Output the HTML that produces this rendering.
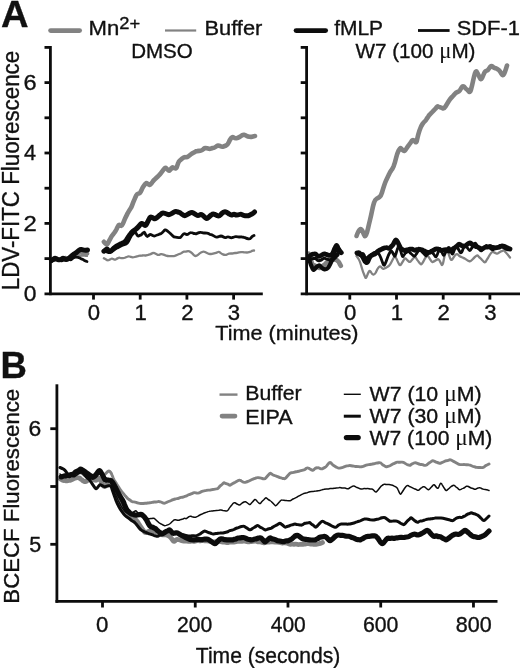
<!DOCTYPE html>
<html lang="en">
<head>
<meta charset="utf-8">
<title>Figure</title>
<style>
html,body{margin:0;padding:0;background:#fff;}
body{width:520px;height:668px;overflow:hidden;}
svg{display:block;}
svg text{font-family:"Liberation Sans",Arial,Helvetica,sans-serif;fill:#111;stroke:#111;stroke-width:0.35px;stroke-linejoin:round;}
</style>
</head>
<body>
<svg width="520" height="668" viewBox="0 0 520 668">
<rect width="520" height="668" fill="#ffffff"/>
<g id="curves">
<path d="M51.5,261.0 Q54.2,260.4 55.6,259.7 Q57.0,259.0 58.2,259.6 Q59.5,260.1 60.8,260.3 Q62.0,260.5 63.0,260.1 Q64.0,259.6 65.0,259.4 Q66.0,259.2 67.0,259.1 Q68.0,259.0 69.2,258.9 Q70.5,258.8 71.8,258.4 Q73.0,258.0 74.2,257.6 Q75.5,257.2 76.8,256.6 Q78.0,256.0 79.2,255.9 Q80.5,255.9 81.8,255.7 Q83.0,255.5 84.0,255.5 Q85.0,255.6 86.0,255.8 L87.0,256.0" fill="none" stroke="#828282" stroke-width="2.2" stroke-linecap="round" stroke-linejoin="round"/>
<path d="M51.5,260.0 Q53.8,259.0 54.9,258.7 Q56.0,258.5 57.0,258.9 Q58.0,259.3 59.0,259.6 Q60.0,260.0 61.2,259.4 Q62.5,258.9 63.8,258.4 Q65.0,258.0 66.2,258.2 Q67.5,258.4 68.8,258.4 Q70.0,258.5 71.0,257.9 Q72.0,257.4 73.0,256.7 Q74.0,256.0 75.0,255.0 Q76.0,254.1 77.0,253.5 Q78.0,253.0 79.0,252.6 Q80.0,252.3 81.0,252.4 Q82.0,252.5 83.5,253.2 Q85.0,254.0 86.0,253.8 L87.0,253.5" fill="none" stroke="#828282" stroke-width="4.6" stroke-linecap="round" stroke-linejoin="round"/>
<path d="M51.5,261.5 Q53.8,260.0 54.9,259.5 Q56.0,259.0 57.2,259.3 Q58.5,259.6 59.8,260.3 Q61.0,261.0 62.2,260.6 Q63.5,260.1 64.8,259.8 Q66.0,259.5 67.2,259.5 Q68.5,259.4 69.8,259.7 Q71.0,260.0 72.0,259.0 Q73.0,258.1 74.0,257.5 Q75.0,257.0 76.0,257.1 Q77.0,257.2 78.0,257.3 Q79.0,257.5 80.0,258.2 Q81.0,258.9 82.0,259.2 Q83.0,259.5 84.0,260.2 Q85.0,260.8 86.0,261.2 L87.0,261.5" fill="none" stroke="#0c0c0c" stroke-width="2.8" stroke-linecap="round" stroke-linejoin="round"/>
<path d="M51.5,260.5 Q53.2,259.4 54.1,258.7 Q55.0,258.0 56.0,258.6 Q57.0,259.3 58.0,259.6 Q59.0,260.0 60.0,259.7 Q61.0,259.4 62.0,258.7 Q63.0,258.0 64.0,258.6 Q65.0,259.3 66.0,259.4 Q67.0,259.5 68.0,258.9 Q69.0,258.3 70.0,257.4 Q71.0,256.5 72.5,255.2 Q74.0,254.0 75.0,253.5 Q76.0,253.0 77.0,252.0 Q78.0,251.0 79.0,250.3 Q80.0,249.7 81.0,249.6 Q82.0,249.5 83.5,250.0 Q85.0,250.5 86.2,250.2 L87.5,250.0" fill="none" stroke="#0c0c0c" stroke-width="5.0" stroke-linecap="round" stroke-linejoin="round"/>
<path d="M103.9,258.3 Q106.0,259.6 107.0,260.1 Q107.9,260.6 109.0,260.0 Q110.0,259.4 110.9,258.9 Q111.8,258.3 112.6,258.8 Q113.4,259.2 114.2,259.5 Q114.9,259.8 116.0,259.2 Q117.0,258.6 118.0,258.1 Q118.9,257.5 120.1,257.8 Q121.3,258.0 122.4,258.1 Q123.6,258.3 124.8,257.8 Q126.0,257.2 127.2,256.7 Q128.3,256.2 129.5,256.5 Q130.7,256.9 131.8,257.2 Q133.0,257.5 134.6,257.0 Q136.2,256.5 137.8,256.1 Q139.3,255.6 140.3,255.7 Q141.3,255.8 142.3,255.5 Q143.3,255.3 144.3,255.4 Q145.2,255.6 146.2,255.3 Q147.2,255.1 148.1,254.8 Q148.9,254.5 149.8,254.3 Q150.7,254.0 151.6,253.6 Q152.4,253.1 153.3,253.0 Q154.2,252.8 155.2,253.4 Q156.2,254.0 157.2,254.6 Q158.2,255.1 159.2,254.8 Q160.2,254.5 161.1,254.2 Q162.1,254.0 163.5,254.6 Q164.9,255.2 166.2,255.7 Q167.6,256.2 169.2,256.2 Q170.8,256.2 172.4,256.2 Q173.9,256.2 175.4,255.6 Q177.0,254.9 178.5,254.2 Q180.0,253.6 180.5,253.6 Q181.0,253.5 182.0,252.7 Q183.0,252.0 184.0,251.7 Q185.0,251.5 186.0,251.5 Q187.0,251.4 188.0,251.2 Q189.0,251.0 190.5,252.0 Q192.0,253.0 193.5,254.8 Q195.0,256.5 196.5,255.8 Q198.0,255.0 199.5,253.5 Q201.0,252.0 202.5,251.8 Q204.0,251.5 205.0,252.0 Q206.0,252.5 207.0,253.0 Q208.0,253.5 209.0,253.8 Q210.0,254.0 211.0,254.0 Q212.0,254.0 213.0,253.7 Q214.0,253.4 215.0,253.2 Q216.0,253.0 217.5,252.2 Q219.0,251.5 220.5,252.8 Q222.0,254.0 223.0,254.4 Q224.0,254.8 225.0,254.9 Q226.0,255.0 227.0,254.5 Q228.0,254.0 229.0,253.7 Q230.0,253.5 231.0,253.5 Q232.0,253.6 233.0,253.3 Q234.0,253.0 235.0,253.0 Q236.0,253.0 237.0,252.8 Q238.0,252.5 239.0,252.3 Q240.0,252.2 241.0,252.1 Q242.0,252.0 243.0,252.1 Q244.0,252.3 245.0,252.4 Q246.0,252.5 247.0,252.5 Q248.0,252.5 249.0,252.2 Q250.0,252.0 251.0,251.5 Q252.0,250.9 253.0,250.7 L254.0,250.5" fill="none" stroke="#828282" stroke-width="2.3" stroke-linecap="round" stroke-linejoin="round"/>
<path d="M103.9,241.8 Q105.5,243.5 106.2,244.2 Q107.0,245.0 108.2,242.6 Q109.4,240.2 110.5,238.3 Q111.5,236.5 112.5,235.2 Q113.4,233.9 114.6,232.4 Q115.7,230.8 116.5,229.2 Q117.3,227.5 118.1,226.0 Q118.9,224.5 119.7,225.0 Q120.5,225.5 121.2,225.8 Q122.0,226.0 122.8,224.0 Q123.6,222.0 124.4,220.1 Q125.2,218.2 126.0,216.6 Q126.8,215.0 127.6,213.4 Q128.3,211.9 129.1,210.7 Q129.9,209.5 130.7,208.3 Q131.4,207.2 132.0,205.6 Q132.6,204.0 133.2,202.4 Q133.8,200.9 134.6,199.1 Q135.4,197.3 136.2,195.6 Q137.0,193.8 137.8,193.7 Q138.5,193.6 139.3,193.3 Q140.1,193.0 140.9,191.4 Q141.7,189.8 142.4,188.2 Q143.2,186.7 144.0,185.6 Q144.8,184.5 145.6,183.7 Q146.4,182.8 147.4,183.6 Q148.3,184.3 149.3,184.8 Q150.3,185.2 151.1,183.9 Q151.9,182.7 152.7,181.6 Q153.5,180.4 155.1,179.0 Q156.6,177.6 158.1,176.2 Q159.7,174.9 161.1,172.9 Q162.5,171.0 163.9,169.1 Q165.3,167.1 166.3,168.2 Q167.3,169.3 168.2,170.2 Q169.2,171.0 170.0,170.0 Q170.8,169.0 171.6,168.1 Q172.3,167.1 173.3,167.6 Q174.3,168.0 175.3,168.3 Q176.3,168.6 176.9,166.8 Q177.5,165.0 178.1,163.3 Q178.6,161.6 179.8,160.6 Q181.0,159.5 182.5,158.2 Q184.0,157.0 185.5,157.2 Q187.0,157.5 188.5,156.2 Q190.0,155.0 191.0,154.2 Q192.0,153.4 193.0,153.0 Q194.0,152.5 195.0,151.8 Q196.0,151.1 197.0,151.1 Q198.0,151.0 199.1,150.9 Q200.2,150.8 201.4,150.4 Q202.5,150.0 203.4,149.1 Q204.2,148.2 205.1,148.1 Q206.0,148.0 207.0,148.3 Q208.0,148.6 209.0,148.8 Q210.0,149.0 211.2,148.5 Q212.5,148.0 213.8,147.8 Q215.0,147.5 216.0,146.6 Q217.0,145.7 218.0,145.6 Q219.0,145.5 220.5,146.2 Q222.0,147.0 223.4,146.5 Q224.8,146.0 226.1,145.5 Q227.5,145.0 228.8,142.2 Q230.0,139.5 231.2,138.0 Q232.5,136.5 233.8,137.5 Q235.0,138.5 236.5,138.2 Q238.0,138.0 239.5,137.0 Q241.0,136.0 242.0,135.3 Q243.0,134.7 244.0,134.8 Q245.0,135.0 246.5,135.8 Q248.0,136.5 249.5,136.8 Q251.0,137.0 252.0,136.7 Q253.0,136.4 254.0,136.2 L255.0,136.0" fill="none" stroke="#828282" stroke-width="4.6" stroke-linecap="round" stroke-linejoin="round"/>
<path d="M103.9,250.5 Q106.5,252.0 108.0,252.4 Q109.4,252.8 111.0,251.8 Q112.5,250.8 114.1,249.8 Q115.7,248.8 117.3,247.9 Q119.0,247.0 120.5,246.2 Q122.0,245.5 123.5,245.0 Q125.0,244.5 126.2,243.9 Q127.5,243.3 128.5,241.4 Q129.5,239.5 130.4,237.5 Q131.4,235.5 132.4,234.5 Q133.4,233.5 134.4,232.5 Q135.4,231.5 135.9,232.8 Q136.5,234.0 137.1,235.2 Q137.7,236.3 138.8,235.9 Q140.0,235.5 140.8,235.1 Q141.7,234.7 142.8,233.1 Q144.0,231.5 144.8,233.0 Q145.6,234.5 146.4,235.8 Q147.2,237.0 148.1,236.1 Q149.0,235.2 149.7,234.6 Q150.3,234.0 151.3,234.7 Q152.3,235.3 153.2,235.8 Q154.2,236.3 155.2,235.8 Q156.3,235.3 157.2,235.0 Q158.2,234.7 159.3,234.2 Q160.5,233.8 161.3,233.4 Q162.1,233.1 163.7,231.1 Q165.3,229.2 166.3,230.1 Q167.3,230.9 168.2,231.6 Q169.2,232.3 170.4,233.6 Q171.6,234.8 172.8,235.9 Q173.9,237.0 175.4,237.2 Q177.0,237.5 178.5,237.7 Q180.0,237.8 180.5,237.4 Q181.0,237.0 182.5,235.0 Q184.0,233.0 185.5,234.0 Q187.0,235.0 188.5,233.8 Q190.0,232.5 191.0,232.6 Q192.0,232.6 193.0,233.1 Q194.0,233.5 195.0,233.7 Q196.0,233.9 197.0,233.4 Q198.0,233.0 199.0,232.6 Q200.0,232.2 201.0,232.4 Q202.0,232.5 203.0,232.8 Q204.0,233.0 205.0,233.0 Q206.0,233.0 207.0,233.1 Q208.0,233.2 209.0,233.8 Q210.0,234.5 211.0,234.7 Q212.0,234.9 213.0,235.4 Q214.0,236.0 215.0,236.6 Q216.0,237.2 217.0,237.1 Q218.0,237.0 219.0,236.5 Q220.0,236.1 221.0,236.0 Q222.0,236.0 223.5,237.0 Q225.0,238.0 226.5,237.2 Q228.0,236.5 229.5,237.2 Q231.0,238.0 232.0,237.7 Q233.0,237.4 234.0,237.0 Q235.0,236.5 236.0,236.6 Q237.0,236.7 238.0,236.8 Q239.0,237.0 240.0,237.0 Q241.0,236.9 242.0,237.0 Q243.0,237.0 244.0,237.4 Q245.0,237.7 246.0,238.1 Q247.0,238.5 248.5,238.8 Q250.0,239.0 251.0,237.8 Q252.0,236.5 253.0,236.0 L254.0,235.5" fill="none" stroke="#0c0c0c" stroke-width="2.8" stroke-linecap="round" stroke-linejoin="round"/>
<path d="M103.9,251.2 Q105.5,250.0 106.2,249.4 Q107.0,248.8 107.8,249.7 Q108.6,250.5 109.4,251.2 Q110.2,252.0 111.6,250.6 Q113.0,249.2 114.3,247.8 Q115.7,246.5 116.8,245.9 Q118.0,245.3 119.2,244.7 Q120.4,244.1 121.6,243.6 Q122.8,243.0 124.0,242.4 Q125.2,241.8 126.8,239.4 Q128.3,237.0 129.9,234.7 Q131.4,232.3 132.8,231.3 Q134.2,230.3 135.6,229.4 Q137.0,228.4 138.2,227.0 Q139.4,225.6 140.6,224.2 Q141.7,222.9 142.7,223.8 Q143.7,224.6 144.6,225.3 Q145.6,226.0 146.8,223.6 Q148.0,221.2 149.2,218.9 Q150.3,216.6 151.5,217.2 Q152.7,217.9 153.8,218.4 Q155.0,219.0 156.0,218.3 Q157.0,217.5 158.0,216.7 Q159.0,215.8 160.0,215.0 Q160.9,214.1 161.9,213.4 Q162.9,212.7 164.4,213.3 Q166.0,213.9 167.6,214.4 Q169.2,215.0 170.8,214.0 Q172.4,213.0 173.9,212.1 Q175.5,211.1 176.8,211.6 Q178.0,212.0 179.0,212.3 Q180.0,212.7 180.5,213.1 Q181.0,213.5 182.0,214.2 Q183.0,214.9 184.0,215.4 Q185.0,216.0 186.5,215.0 Q188.0,214.0 189.5,213.2 Q191.0,212.5 192.0,212.6 Q193.0,212.7 194.0,213.4 Q195.0,214.0 196.5,215.0 Q198.0,216.0 199.5,215.0 Q201.0,214.0 202.5,215.2 Q204.0,216.5 205.5,217.8 Q207.0,219.0 208.5,217.5 Q210.0,216.0 211.5,214.8 Q213.0,213.5 214.5,214.2 Q216.0,215.0 217.5,215.8 Q219.0,216.5 220.5,214.8 Q222.0,213.0 223.5,212.2 Q225.0,211.5 226.5,212.2 Q228.0,213.0 229.5,214.2 Q231.0,215.5 232.5,214.8 Q234.0,214.0 235.0,214.5 Q236.0,215.1 237.0,215.0 Q238.0,215.0 239.5,214.5 Q241.0,214.0 242.0,214.7 Q243.0,215.3 244.0,215.4 Q245.0,215.5 246.5,215.8 Q248.0,216.0 249.5,215.2 Q251.0,214.5 251.9,214.0 Q252.8,213.5 253.6,212.8 L254.5,212.0" fill="none" stroke="#0c0c0c" stroke-width="5.0" stroke-linecap="round" stroke-linejoin="round"/>
<path d="M308.8,258.5 Q310.6,261.3 311.6,262.3 Q312.5,263.3 313.9,264.0 Q315.4,264.6 316.9,265.2 Q318.3,265.8 319.8,265.6 Q321.2,265.4 322.6,264.6 Q324.0,263.8 325.4,263.2 Q326.9,262.7 328.4,261.9 Q329.8,261.2 331.2,260.8 Q332.7,260.4 334.1,260.6 Q335.6,260.8 337.1,261.6 Q338.5,262.3 339.4,263.1 L340.4,263.8" fill="none" stroke="#828282" stroke-width="2.2" stroke-linecap="round" stroke-linejoin="round"/>
<path d="M308.7,253.7 Q309.6,256.2 310.1,257.4 Q310.6,258.5 311.1,260.2 Q311.5,261.9 312.0,263.5 Q312.5,265.2 313.4,265.5 Q314.4,265.8 315.4,266.0 Q316.3,266.2 317.1,266.8 Q317.9,267.3 318.5,267.7 Q319.2,268.1 320.2,267.6 Q321.2,267.1 322.1,266.6 Q323.1,266.2 324.1,265.2 Q325.0,264.2 325.9,263.2 Q326.9,262.3 327.9,261.6 Q328.8,260.8 329.8,260.1 Q330.8,259.4 332.0,259.3 Q333.1,259.2 334.4,259.3 Q335.6,259.4 336.4,259.9 Q337.1,260.4 337.8,260.9 Q338.5,261.3 339.1,262.5 Q339.6,263.7 340.2,264.8 L340.8,265.8" fill="none" stroke="#828282" stroke-width="4.6" stroke-linecap="round" stroke-linejoin="round"/>
<path d="M309.0,259.4 Q310.4,263.3 310.9,264.8 Q311.5,266.2 312.0,267.4 Q312.5,268.5 313.0,269.4 Q313.5,270.4 314.2,269.5 Q315.0,268.7 315.6,267.9 Q316.3,267.1 317.1,266.6 Q317.9,266.2 318.5,265.7 Q319.2,265.2 320.0,265.9 Q320.8,266.7 321.5,267.4 Q322.1,268.1 322.9,268.6 Q323.7,269.0 324.4,269.3 Q325.0,269.6 325.8,269.2 Q326.5,268.8 327.2,268.5 Q327.9,268.1 328.4,267.4 Q328.8,266.7 329.3,265.9 Q329.8,265.2 330.3,264.0 Q330.8,262.9 331.2,261.9 Q331.7,260.8 332.4,259.9 Q333.1,259.0 333.9,258.2 Q334.6,257.5 335.4,256.8 Q336.2,256.0 336.9,255.3 L337.5,254.6" fill="none" stroke="#0c0c0c" stroke-width="4.2" stroke-linecap="round" stroke-linejoin="round"/>
<path d="M308.7,257.5 Q310.0,255.8 310.8,255.2 Q311.5,254.6 312.5,254.2 Q313.5,253.8 314.4,253.8 Q315.4,253.7 316.1,254.4 Q316.9,255.2 317.6,255.8 Q318.3,256.5 319.1,256.2 Q319.8,256.0 320.5,255.8 Q321.2,255.6 321.9,255.0 Q322.7,254.4 323.4,254.1 Q324.0,253.7 324.8,253.9 Q325.6,254.2 326.2,254.4 Q326.9,254.6 327.7,254.9 Q328.5,255.2 329.1,255.4 Q329.8,255.6 330.6,255.1 Q331.3,254.6 332.0,254.1 Q332.7,253.7 333.2,252.4 Q333.7,251.2 334.1,250.0 Q334.6,248.8 335.1,247.8 Q335.6,246.7 336.1,245.8 Q336.5,245.0 337.0,245.9 Q337.5,246.9 338.0,247.9 Q338.5,248.8 338.9,249.6 Q339.4,250.4 339.9,251.1 Q340.4,251.7 340.9,252.2 L341.3,252.7" fill="none" stroke="#0c0c0c" stroke-width="4.8" stroke-linecap="round" stroke-linejoin="round"/>
<path d="M311.5,259.1 Q313.5,258.3 314.4,258.2 Q315.4,258.2 316.1,258.9 Q316.9,259.7 317.6,260.4 Q318.3,261.0 319.1,260.8 Q319.8,260.5 320.5,260.3 Q321.2,260.1 321.9,259.5 Q322.7,258.9 323.4,258.5 Q324.0,258.2 324.8,258.4 Q325.6,258.7 326.2,258.9 Q326.9,259.1 327.7,259.4 Q328.5,259.7 329.1,259.9 Q329.8,260.1 330.6,259.6 Q331.3,259.1 332.0,258.6 Q332.7,258.2 333.2,256.9 Q333.7,255.7 334.1,254.5 Q334.6,253.3 335.1,252.2 Q335.6,251.2 336.1,250.3 Q336.5,249.5 337.0,250.4 L337.5,251.4" fill="none" stroke="#0c0c0c" stroke-width="3.0" stroke-linecap="round" stroke-linejoin="round"/>
<path d="M356.5,256.0 Q359.0,259.0 360.0,262.0 Q361.0,265.0 362.0,268.5 Q363.0,272.0 363.8,273.7 Q364.5,275.4 365.2,277.2 Q366.0,279.0 367.0,276.0 Q368.0,273.0 369.0,271.5 Q370.0,270.0 371.2,272.5 Q372.5,275.0 373.8,274.5 Q375.0,274.0 375.8,272.5 Q376.5,271.0 377.2,269.5 Q378.0,268.0 379.0,267.0 Q380.0,266.0 380.8,266.7 Q381.5,267.4 382.2,268.2 Q383.0,269.0 383.8,268.7 Q384.5,268.4 385.2,268.2 Q386.0,268.0 387.0,267.2 Q388.0,266.4 389.0,265.7 Q390.0,265.0 391.2,262.5 Q392.5,260.0 393.8,257.5 Q395.0,255.0 396.2,258.1 Q397.5,261.2 398.8,263.7 Q400.0,266.2 401.2,264.1 Q402.5,262.0 403.8,259.8 Q405.0,257.5 406.2,259.0 Q407.5,260.5 408.8,261.5 Q410.0,262.5 411.2,260.9 Q412.5,259.2 413.8,257.7 Q415.0,256.2 415.8,257.5 Q416.5,258.8 417.2,259.9 Q418.0,261.0 418.8,261.9 Q419.6,262.8 420.4,263.9 Q421.2,265.0 422.0,263.7 Q422.9,262.4 423.7,260.9 Q424.5,259.5 425.2,258.1 Q426.0,256.8 426.8,255.9 Q427.5,255.0 428.8,257.1 Q430.0,259.2 431.2,260.9 Q432.5,262.5 433.2,261.9 Q434.0,261.3 434.8,260.9 Q435.5,260.5 436.3,260.0 Q437.1,259.5 438.0,259.1 Q438.8,258.8 439.8,260.9 Q440.8,263.0 441.6,264.6 Q442.5,266.2 443.5,261.2 Q444.5,256.2 445.4,251.3 Q446.2,246.5 447.5,250.5 Q448.8,254.5 450.0,257.9 Q451.2,261.2 452.5,259.1 Q453.8,257.0 455.0,255.4 Q456.2,253.8 457.0,254.2 Q457.9,254.5 458.7,255.3 Q459.5,256.0 460.2,256.5 Q461.0,257.0 461.8,257.2 Q462.5,257.5 463.4,257.9 Q464.4,258.3 465.3,258.9 Q466.2,259.5 467.1,260.1 Q468.1,260.8 469.1,261.1 Q470.0,261.5 470.9,260.9 Q471.9,260.2 472.9,259.1 Q473.8,258.0 474.7,257.1 Q475.6,256.3 476.6,255.6 Q477.5,255.0 478.4,256.2 Q479.4,257.4 480.3,258.2 Q481.2,259.0 482.1,260.1 Q483.1,261.2 484.1,262.0 Q485.0,262.8 485.9,261.3 Q486.9,259.8 487.9,258.2 Q488.8,256.5 489.7,255.0 Q490.6,253.5 491.6,252.5 Q492.5,251.5 493.8,252.2 Q495.0,253.0 496.2,253.4 Q497.5,253.8 498.3,253.2 Q499.1,252.6 500.0,252.1 Q500.8,251.5 501.6,251.2 Q502.3,250.9 503.1,250.4 Q503.8,250.0 504.6,250.9 Q505.4,251.8 506.2,252.9 Q507.0,254.0 507.8,254.7 Q508.5,255.5 509.2,256.5 L510.0,257.5" fill="none" stroke="#828282" stroke-width="2.3" stroke-linecap="round" stroke-linejoin="round"/>
<path d="M356.5,236.0 Q358.5,230.5 359.8,229.5 Q361.0,228.5 362.0,230.2 Q363.0,232.0 364.0,234.8 Q365.0,237.5 366.0,235.2 Q367.0,233.0 368.0,228.5 Q369.0,224.0 370.0,220.0 Q371.0,216.0 372.0,211.0 Q373.0,206.0 374.0,202.8 Q375.0,199.5 376.5,198.8 Q378.0,198.0 379.5,197.0 Q381.0,196.0 382.0,192.5 Q383.0,189.0 384.0,186.0 Q385.0,183.0 386.2,180.2 Q387.5,177.5 388.8,174.8 Q390.0,172.0 391.2,170.5 Q392.5,169.0 393.8,165.8 Q395.0,162.5 396.0,158.2 Q397.0,154.0 398.5,150.8 Q400.0,147.5 401.0,148.5 Q402.0,149.5 403.2,150.5 Q404.5,151.5 405.4,150.1 Q406.2,148.8 407.1,147.4 Q408.0,146.0 409.1,144.7 Q410.2,143.3 411.4,141.4 Q412.5,139.5 413.5,140.2 Q414.5,141.0 415.5,142.0 Q416.5,143.0 417.2,139.0 Q418.0,135.0 419.5,130.5 Q421.0,126.0 422.5,124.0 Q424.0,122.0 424.9,121.3 Q425.8,120.6 426.6,119.0 Q427.5,117.5 428.4,116.3 Q429.2,115.1 430.1,114.3 Q431.0,113.5 432.5,111.8 Q434.0,110.0 434.9,109.2 Q435.8,108.5 436.6,107.2 Q437.5,106.0 438.4,106.6 Q439.2,107.1 440.1,107.3 Q441.0,107.5 442.5,108.2 Q444.0,109.0 445.5,106.5 Q447.0,104.0 448.5,101.5 Q450.0,99.0 451.5,97.5 Q453.0,96.0 454.5,94.2 Q456.0,92.5 457.5,92.0 Q459.0,91.5 459.9,90.3 Q460.8,89.0 461.6,87.5 Q462.5,86.0 463.4,86.4 Q464.2,86.8 465.1,87.9 Q466.0,89.0 467.0,89.6 Q468.0,90.1 469.0,91.6 Q470.0,93.0 471.0,89.5 Q472.0,86.0 473.0,81.2 Q474.0,76.5 475.0,73.2 Q476.0,70.0 477.2,72.5 Q478.5,75.0 479.8,77.8 Q481.0,80.5 482.0,78.2 Q483.0,76.0 484.0,73.5 Q485.0,71.0 486.5,70.8 Q488.0,70.5 489.5,67.8 Q491.0,65.0 492.5,66.5 Q494.0,68.0 494.9,68.1 Q495.8,68.3 496.6,68.6 Q497.5,69.0 498.8,70.0 Q500.0,71.0 501.5,73.8 Q503.0,76.5 504.0,74.2 Q505.0,72.0 506.0,68.8 L507.0,65.5" fill="none" stroke="#828282" stroke-width="4.6" stroke-linecap="round" stroke-linejoin="round"/>
<path d="M357.0,254.0 Q358.5,254.7 359.2,255.3 Q360.0,256.0 360.8,255.3 Q361.5,254.7 362.2,253.8 Q363.0,253.0 363.8,254.4 Q364.5,255.8 365.2,257.4 Q366.0,259.0 366.8,258.1 Q367.5,257.2 368.2,256.6 Q369.0,256.0 369.8,255.5 Q370.5,255.0 371.2,254.5 Q372.0,254.0 372.8,253.5 Q373.5,253.0 374.2,252.5 Q375.0,252.0 375.8,252.2 Q376.5,252.5 377.2,252.7 Q378.0,253.0 379.0,254.2 Q380.0,255.5 381.0,258.2 Q382.0,261.0 383.0,263.8 Q384.0,266.5 385.0,264.2 Q386.0,262.0 387.0,259.0 Q388.0,256.0 388.8,254.5 Q389.6,253.0 390.4,251.5 Q391.2,250.0 392.1,251.8 Q393.1,253.5 394.1,255.5 Q395.0,257.5 395.9,254.0 Q396.9,250.5 397.9,247.3 Q398.8,244.0 399.7,247.5 Q400.6,250.9 401.6,254.2 Q402.5,257.5 403.2,256.3 Q404.0,255.1 404.8,254.0 Q405.5,253.0 406.3,252.6 Q407.1,252.3 408.0,251.7 Q408.8,251.2 409.6,252.2 Q410.4,253.1 411.2,253.8 Q412.0,254.5 412.8,255.2 Q413.5,255.9 414.2,256.2 Q415.0,256.5 416.2,254.2 Q417.5,252.0 418.8,250.4 Q420.0,248.8 420.8,250.1 Q421.6,251.3 422.4,252.2 Q423.2,253.0 423.9,253.7 Q424.7,254.5 425.4,255.5 Q426.2,256.5 427.5,254.5 Q428.8,252.5 430.0,251.2 Q431.2,250.0 432.5,252.2 Q433.8,254.5 435.0,256.1 Q436.2,257.8 437.2,254.9 Q438.2,252.0 439.1,249.8 Q440.0,247.5 441.0,250.0 Q442.0,252.5 442.9,254.5 Q443.8,256.5 445.0,253.8 Q446.2,251.0 447.5,248.6 Q448.8,246.2 449.8,248.6 Q450.8,251.0 451.6,253.1 Q452.5,255.2 453.5,252.3 Q454.5,249.5 455.4,247.2 Q456.2,245.0 457.5,247.5 Q458.8,250.0 460.0,252.0 Q461.2,254.0 462.2,251.2 Q463.2,248.5 464.1,246.2 Q465.0,243.8 466.2,245.9 Q467.5,248.0 468.8,249.8 Q470.0,251.5 471.2,249.0 Q472.5,246.5 473.8,244.5 Q475.0,242.5 475.8,243.6 Q476.6,244.7 477.4,246.1 Q478.2,247.5 478.9,248.6 Q479.7,249.7 480.4,250.6 Q481.2,251.5 482.5,249.8 Q483.8,248.0 485.0,246.5 Q486.2,245.0 487.0,245.8 Q487.9,246.6 488.7,247.3 Q489.5,248.0 490.2,248.4 Q491.0,248.8 491.8,249.5 Q492.5,250.2 493.4,249.6 Q494.4,249.0 495.3,248.3 Q496.2,247.5 497.1,247.1 Q498.1,246.6 499.1,245.8 Q500.0,245.0 500.9,245.9 Q501.9,246.8 502.9,247.4 Q503.8,248.0 504.7,248.4 Q505.6,248.8 506.6,249.5 Q507.5,250.2 508.8,249.7 L510.0,249.2" fill="none" stroke="#0c0c0c" stroke-width="2.8" stroke-linecap="round" stroke-linejoin="round"/>
<path d="M357.0,253.0 Q359.0,252.0 360.0,253.5 Q361.0,255.0 362.0,256.0 Q363.0,257.0 364.0,259.5 Q365.0,262.0 366.2,262.5 Q367.5,263.0 368.5,260.0 Q369.5,257.0 370.8,256.0 Q372.0,255.0 372.8,254.9 Q373.5,254.7 374.2,254.4 Q375.0,254.0 375.8,253.4 Q376.5,252.9 377.2,251.9 Q378.0,251.0 378.8,250.6 Q379.5,250.3 380.2,249.9 Q381.0,249.5 381.8,249.1 Q382.5,248.8 383.2,248.4 Q384.0,248.0 384.8,247.8 Q385.5,247.6 386.2,247.6 Q387.0,247.5 387.8,248.0 Q388.5,248.4 389.2,248.2 Q390.0,248.0 390.8,247.1 Q391.5,246.2 392.2,245.6 Q393.0,245.0 393.8,243.3 Q394.6,241.6 395.4,240.4 Q396.2,239.2 397.5,241.8 Q398.8,244.5 400.0,246.8 Q401.2,249.2 402.0,249.4 Q402.9,249.7 403.7,250.2 Q404.5,250.8 405.2,250.4 Q406.0,250.1 406.8,250.0 Q407.5,250.0 408.4,249.6 Q409.4,249.3 410.3,249.1 Q411.2,249.0 412.1,249.2 Q413.1,249.4 414.1,250.0 Q415.0,250.5 415.9,249.9 Q416.9,249.3 417.9,249.3 Q418.8,249.2 419.7,249.3 Q420.6,249.5 421.6,249.8 Q422.5,250.2 423.4,250.5 Q424.4,250.8 425.3,251.4 Q426.2,252.0 427.1,252.2 Q428.1,252.3 429.1,252.4 Q430.0,252.5 430.9,251.7 Q431.9,250.8 432.9,250.4 Q433.8,250.0 434.7,249.4 Q435.6,248.8 436.6,248.8 Q437.5,248.8 438.4,249.1 Q439.4,249.4 440.3,250.1 Q441.2,250.8 442.1,250.5 Q443.1,250.2 444.1,249.9 Q445.0,249.5 445.9,249.8 Q446.9,250.2 447.9,250.7 Q448.8,251.2 449.7,250.9 Q450.6,250.5 451.6,249.9 Q452.5,249.2 453.8,248.3 Q455.0,247.5 455.9,246.8 Q456.9,246.2 457.9,245.1 Q458.8,244.0 459.6,244.4 Q460.4,244.9 461.2,245.4 Q462.0,246.0 462.8,245.8 Q463.5,245.7 464.2,246.1 Q465.0,246.5 466.2,245.2 Q467.5,244.0 468.8,243.2 Q470.0,242.5 470.8,243.3 Q471.6,244.1 472.4,244.5 Q473.2,245.0 473.9,245.6 Q474.7,246.1 475.4,246.3 Q476.2,246.5 477.0,246.8 Q477.9,247.1 478.7,247.6 Q479.5,248.0 480.2,248.3 Q481.0,248.6 481.8,248.7 Q482.5,248.8 483.4,248.2 Q484.4,247.6 485.3,247.3 Q486.2,247.0 487.1,247.1 Q488.1,247.2 489.1,246.7 Q490.0,246.2 490.9,246.8 Q491.9,247.3 492.9,247.4 Q493.8,247.5 494.7,247.7 Q495.6,247.9 496.6,247.7 Q497.5,247.5 498.4,247.4 Q499.4,247.4 500.3,246.7 Q501.2,246.0 502.1,245.9 Q503.1,245.9 504.1,246.2 Q505.0,246.5 506.2,247.2 Q507.5,248.0 508.8,248.5 L510.0,249.0" fill="none" stroke="#0c0c0c" stroke-width="4.8" stroke-linecap="round" stroke-linejoin="round"/>
<path d="M60.5,479.0 Q63.0,480.6 63.8,480.5 Q64.5,480.4 65.2,480.6 Q66.0,480.8 67.0,480.8 Q68.0,480.7 69.0,480.5 Q70.0,480.3 71.0,479.9 Q72.0,479.5 73.0,479.0 Q74.0,478.5 75.0,478.2 Q76.0,478.0 77.0,477.7 Q78.0,477.5 78.9,477.9 Q79.8,478.2 80.6,478.9 Q81.5,479.5 82.4,480.2 Q83.2,481.0 84.1,481.4 Q85.0,481.9 85.8,481.6 Q86.5,481.3 87.2,480.6 Q88.0,480.0 89.0,479.8 Q90.0,479.5 91.0,479.3 Q92.0,479.0 93.0,479.4 Q94.0,479.8 95.0,480.1 Q96.0,480.5 96.8,479.7 Q97.5,479.0 98.2,478.5 Q99.0,478.0 99.9,479.4 Q100.8,480.8 101.6,482.6 Q102.5,484.5 103.5,486.0 Q104.5,487.5 105.8,485.8 Q107.0,484.0 107.8,483.7 Q108.5,483.4 109.2,483.2 Q110.0,483.0 110.8,483.8 Q111.5,484.6 112.2,485.3 Q113.0,486.0 113.8,487.8 Q114.5,489.6 115.2,491.8 Q116.0,494.0 117.4,497.9 Q118.8,501.9 120.2,504.2 Q121.5,506.5 122.8,508.5 Q124.0,510.5 124.8,511.6 Q125.5,512.8 126.2,513.6 Q127.0,514.5 127.8,515.0 Q128.5,515.5 129.2,516.2 Q130.0,517.0 131.0,517.2 Q132.0,517.5 133.0,518.0 Q134.0,518.5 134.9,519.0 Q135.8,519.5 136.6,520.5 Q137.5,521.5 138.9,524.0 Q140.4,526.5 141.6,528.0 Q142.7,529.6 143.8,531.2 Q145.0,532.7 145.8,532.6 Q146.5,532.6 147.2,532.0 Q148.0,531.5 148.8,531.5 Q149.5,531.5 150.2,531.2 Q151.0,531.0 151.8,531.3 Q152.5,531.6 153.2,531.6 Q154.0,531.5 155.0,531.8 Q156.0,532.1 157.0,532.3 Q158.0,532.5 159.0,532.9 Q160.0,533.3 161.0,534.1 Q162.0,535.0 163.0,534.8 Q164.0,534.6 165.0,534.5 Q166.0,534.5 167.0,535.0 Q168.0,535.5 169.0,536.0 Q170.0,536.5 171.2,538.2 Q172.5,540.0 173.3,541.0 Q174.2,541.9 175.1,540.7 Q176.0,539.5 177.0,539.4 Q178.0,539.4 179.0,539.7 Q180.0,540.0 181.2,540.5 Q182.5,541.0 183.8,541.0 Q185.0,541.0 186.2,541.1 Q187.5,541.1 188.8,541.3 Q190.0,541.5 191.0,541.2 Q192.0,541.0 193.0,541.2 Q194.0,541.5 195.0,541.2 Q196.0,541.0 197.0,540.7 Q198.0,540.5 199.0,540.8 Q200.0,541.1 201.0,540.8 Q202.0,540.5 203.0,540.6 Q204.0,540.6 205.0,540.8 Q206.0,540.9 207.0,540.9 Q208.0,541.0 209.0,541.1 Q210.0,541.2 211.0,541.4 Q212.0,541.7 213.0,541.8 Q214.0,542.0 215.0,541.8 Q216.0,541.5 217.0,541.4 Q218.0,541.2 219.0,541.4 Q220.0,541.5 221.0,541.8 Q222.0,542.2 223.0,542.1 Q224.0,541.9 225.0,542.2 Q226.0,542.5 227.0,542.6 Q228.0,542.6 229.0,542.2 Q230.0,541.9 231.0,541.9 Q232.0,542.0 233.0,542.1 Q234.0,542.1 235.0,541.9 Q236.0,541.7 237.0,541.4 Q238.0,541.0 239.0,541.1 Q240.0,541.3 241.0,541.3 Q242.0,541.3 243.0,541.1 Q244.0,541.0 245.0,541.2 Q246.0,541.4 247.0,541.7 Q248.0,541.9 249.0,541.9 Q250.0,542.0 251.0,541.6 Q252.0,541.3 253.0,541.3 Q254.0,541.3 255.0,541.2 Q256.0,541.0 257.0,541.4 Q258.0,541.8 259.0,541.8 Q260.0,541.7 261.0,542.1 Q262.0,542.5 263.0,542.6 Q264.0,542.8 265.0,542.7 Q266.0,542.6 267.0,542.3 Q268.0,542.0 269.0,542.0 Q270.0,541.9 271.0,541.9 Q272.0,541.9 273.0,541.9 Q274.0,542.0 275.0,542.1 Q276.0,542.1 277.0,542.2 Q278.0,542.2 279.0,542.4 Q280.0,542.5 281.0,542.8 Q282.0,543.2 283.0,542.9 Q284.0,542.7 285.0,542.9 Q286.0,543.0 287.0,543.1 Q288.0,543.3 289.0,543.9 Q290.0,544.5 291.0,544.2 Q292.0,543.9 293.0,544.2 Q294.0,544.4 295.0,544.2 Q296.0,544.0 297.0,544.3 Q298.0,544.7 299.0,544.5 Q300.0,544.3 301.0,544.4 Q302.0,544.5 303.0,544.3 Q304.0,544.2 305.0,544.0 Q306.0,543.9 307.0,543.7 Q308.0,543.5 309.0,543.8 Q310.0,544.1 311.0,544.0 Q312.0,543.9 313.0,544.2 Q314.0,544.5 315.0,544.4 Q316.0,544.4 317.0,544.2 Q318.0,544.0 319.1,543.7 Q320.2,543.3 321.4,542.9 L322.5,542.5" fill="none" stroke="#828282" stroke-width="4.8" stroke-linecap="round" stroke-linejoin="round"/>
<path d="M60.0,477.0 Q62.0,478.2 63.0,478.3 Q64.0,478.5 65.0,477.8 Q66.0,477.2 67.0,476.8 Q68.0,476.5 69.0,476.4 Q70.0,476.3 71.0,476.7 Q72.0,477.0 73.0,476.7 Q74.0,476.4 75.0,475.7 Q76.0,475.0 77.0,474.2 Q78.0,473.5 79.0,473.0 Q80.0,472.5 81.0,473.0 Q82.0,473.4 83.0,474.2 Q84.0,475.0 85.0,475.8 Q86.0,476.6 87.0,477.3 Q88.0,478.0 89.0,477.6 Q90.0,477.1 91.0,476.8 Q92.0,476.5 93.0,475.8 Q94.0,475.1 95.0,474.1 Q96.0,473.0 97.0,473.0 Q98.0,473.0 99.0,473.3 Q100.0,473.5 100.8,474.2 Q101.5,474.9 102.2,475.2 Q103.0,475.5 104.2,474.8 Q105.5,474.0 106.5,472.8 Q107.5,471.5 108.5,471.1 Q109.6,470.8 110.5,472.1 Q111.5,473.5 112.0,474.9 Q112.5,476.2 113.3,478.3 Q114.2,480.4 115.0,481.5 Q115.8,482.5 116.5,483.8 Q117.3,485.0 118.1,486.2 Q118.8,487.4 119.6,488.5 Q120.4,489.6 121.2,490.8 Q122.0,491.9 122.7,492.7 Q123.5,493.5 124.2,494.5 Q125.0,495.6 125.8,496.4 Q126.5,497.3 127.3,498.1 Q128.1,498.9 128.8,499.4 Q129.6,499.8 130.4,500.4 Q131.1,501.0 131.9,501.5 Q132.7,501.9 133.8,501.9 Q135.0,502.0 136.2,502.4 Q137.3,502.9 138.5,503.2 Q139.6,503.5 140.8,503.5 Q141.9,503.5 143.1,503.5 Q144.2,503.4 145.3,503.3 Q146.5,503.2 147.7,503.0 Q148.8,502.8 150.0,502.7 Q151.2,502.7 152.1,502.4 Q153.1,502.1 154.1,502.0 Q155.0,502.0 155.9,502.0 Q156.9,501.9 157.9,501.6 Q158.8,501.2 160.2,501.8 Q161.5,502.4 162.8,502.9 Q164.2,503.5 165.3,503.0 Q166.3,502.6 167.4,502.0 Q168.5,501.5 169.6,501.2 Q170.6,500.9 171.6,500.3 Q172.7,499.6 173.5,499.5 Q174.3,499.3 175.2,499.0 Q176.0,498.6 177.0,498.6 Q178.0,498.6 179.0,498.1 Q180.0,497.7 181.2,497.4 Q182.5,497.2 183.8,496.8 Q185.0,496.5 185.8,496.2 Q186.5,495.9 187.2,495.5 Q188.0,495.0 189.0,494.7 Q190.0,494.4 191.0,493.9 Q192.0,493.5 192.8,493.1 Q193.5,492.8 194.2,492.6 Q195.0,492.5 196.0,492.8 Q197.0,493.2 198.0,493.1 Q199.0,493.0 200.0,492.4 Q201.0,491.8 202.0,491.4 Q203.0,491.0 204.1,490.9 Q205.2,490.8 206.4,490.4 Q207.5,490.0 208.6,490.1 Q209.8,490.2 210.9,489.8 Q212.0,489.5 212.9,489.5 Q213.8,489.5 214.8,489.2 Q215.7,488.8 216.6,488.9 Q217.5,489.0 218.8,487.5 Q220.0,486.0 221.0,485.3 Q222.0,484.5 223.0,483.5 Q224.0,482.5 224.8,483.0 Q225.5,483.4 226.2,483.7 Q227.0,484.0 227.8,484.2 Q228.5,484.5 229.2,485.0 Q230.0,485.5 231.0,484.7 Q232.0,483.8 233.0,483.4 Q234.0,483.0 235.2,482.3 Q236.5,481.5 237.8,480.8 Q239.0,480.0 239.8,480.2 Q240.5,480.3 241.2,480.9 Q242.0,481.5 242.8,481.9 Q243.5,482.4 244.2,482.4 Q245.0,482.5 246.0,482.1 Q247.0,481.8 248.0,481.4 Q249.0,481.0 250.0,480.5 Q251.0,480.0 252.0,479.5 Q253.0,479.0 254.1,478.6 Q255.2,478.2 256.4,477.8 Q257.5,477.5 258.4,477.7 Q259.2,477.9 260.1,477.9 Q261.0,478.0 262.0,478.4 Q263.0,478.9 264.0,478.9 Q265.0,479.0 266.2,477.5 Q267.5,476.0 268.8,474.5 Q270.0,473.0 270.8,473.4 Q271.5,473.8 272.2,474.4 Q273.0,475.0 274.1,475.3 Q275.2,475.6 276.4,476.1 Q277.5,476.5 278.4,476.9 Q279.2,477.3 280.1,477.7 Q281.0,478.0 282.0,478.2 Q283.0,478.3 284.0,478.7 Q285.0,479.0 286.2,477.5 Q287.5,476.0 288.8,474.5 Q290.0,473.0 291.2,472.8 Q292.5,472.6 293.8,472.3 Q295.0,472.0 296.2,471.8 Q297.5,471.5 298.8,471.3 Q300.0,471.0 301.0,470.7 Q302.0,470.4 303.0,470.2 Q304.0,470.0 304.9,469.5 Q305.8,468.9 306.6,468.2 Q307.5,467.5 308.8,468.2 Q310.0,469.0 310.8,469.4 Q311.5,469.8 312.2,470.1 Q313.0,470.5 313.8,469.7 Q314.5,468.9 315.2,468.4 Q316.0,468.0 317.2,467.8 Q318.5,467.5 319.4,468.1 Q320.2,468.7 321.1,468.8 Q322.0,469.0 323.0,468.4 Q324.0,467.9 325.0,467.4 Q326.0,467.0 327.0,465.5 Q328.0,464.0 329.0,463.0 Q330.0,462.0 330.8,462.7 Q331.5,463.4 332.2,464.2 Q333.0,465.0 334.1,465.7 Q335.2,466.4 336.4,467.2 Q337.5,468.0 338.6,468.1 Q339.8,468.1 340.9,467.8 Q342.0,467.5 343.0,467.3 Q344.0,467.2 345.0,466.6 Q346.0,466.0 347.0,465.9 Q348.0,465.8 349.0,465.6 Q350.0,465.5 351.2,465.7 Q352.5,465.9 353.8,466.2 Q355.0,466.5 356.2,466.4 Q357.5,466.4 358.8,466.7 Q360.0,467.0 361.2,466.8 Q362.5,466.6 363.8,466.1 Q365.0,465.5 366.2,465.1 Q367.5,464.7 368.8,464.6 Q370.0,464.5 371.2,464.3 Q372.5,464.0 373.8,463.8 Q375.0,463.5 376.2,463.2 Q377.5,462.9 378.8,462.7 Q380.0,462.5 380.8,463.0 Q381.5,463.6 382.2,464.3 Q383.0,465.0 383.8,465.4 Q384.5,465.9 385.2,466.4 Q386.0,467.0 387.0,466.6 Q388.0,466.2 389.0,466.1 Q390.0,466.0 391.0,465.2 Q392.0,464.3 393.0,463.9 Q394.0,463.5 394.8,463.1 Q395.5,462.8 396.2,462.4 Q397.0,462.0 397.9,462.1 Q398.8,462.3 399.8,462.2 Q400.7,462.1 401.6,462.1 Q402.5,462.0 403.4,462.4 Q404.2,462.7 405.1,463.4 Q406.0,464.0 407.0,464.5 Q408.0,464.9 409.0,465.2 Q410.0,465.5 410.8,464.8 Q411.5,464.1 412.2,463.8 Q413.0,463.5 414.0,463.0 Q415.0,462.5 416.0,462.8 Q417.0,463.2 418.0,463.6 Q419.0,464.0 419.9,464.3 Q420.8,464.5 421.6,464.5 Q422.5,464.5 423.4,464.9 Q424.2,465.4 425.1,465.4 Q426.0,465.5 426.8,464.9 Q427.5,464.2 428.2,463.6 Q429.0,463.0 429.9,462.5 Q430.8,462.1 431.6,461.3 Q432.5,460.5 433.4,460.9 Q434.2,461.2 435.1,461.6 Q436.0,462.0 437.0,462.4 Q438.0,462.8 439.0,463.1 Q440.0,463.5 441.2,462.9 Q442.5,462.3 443.8,461.7 Q445.0,461.0 446.2,460.8 Q447.5,460.7 448.8,460.1 Q450.0,459.5 451.0,460.1 Q452.0,460.7 453.0,461.1 Q454.0,461.5 455.2,462.2 Q456.5,463.0 457.8,463.7 Q459.0,464.5 460.2,464.6 Q461.5,464.7 462.8,464.6 Q464.0,464.5 465.0,464.6 Q466.0,464.8 467.0,464.7 Q468.0,464.7 469.0,464.9 Q470.0,465.0 471.0,465.5 Q472.0,466.0 473.0,466.3 Q474.0,466.5 474.9,466.9 Q475.8,467.3 476.6,467.4 Q477.5,467.5 478.4,467.5 Q479.2,467.6 480.1,467.5 Q481.0,467.5 481.8,467.6 Q482.5,467.6 483.2,467.3 Q484.0,467.0 484.8,466.3 Q485.5,465.6 486.2,465.3 Q487.0,465.0 488.0,464.5 L489.0,464.0" fill="none" stroke="#828282" stroke-width="2.9" stroke-linecap="round" stroke-linejoin="round"/>
<path d="M60.0,474.0 Q61.5,475.4 62.2,475.7 Q63.0,476.0 63.8,476.6 Q64.5,477.2 65.2,477.3 Q66.0,477.5 67.0,477.3 Q68.0,477.1 69.0,476.6 Q70.0,476.0 71.0,476.1 Q72.0,476.1 73.0,476.6 Q74.0,477.0 75.0,476.3 Q76.0,475.6 77.0,474.8 Q78.0,474.0 79.0,473.5 Q80.0,472.9 81.0,472.5 Q82.0,472.0 83.0,472.8 Q84.0,473.5 85.0,474.3 Q86.0,475.0 87.0,475.8 Q88.0,476.7 89.0,477.8 Q90.0,479.0 91.0,478.6 Q92.0,478.2 93.0,478.1 Q94.0,478.0 95.0,476.7 Q96.0,475.5 97.0,474.2 Q98.0,473.0 99.0,473.1 Q100.0,473.2 101.0,473.6 Q102.0,474.0 103.0,475.0 Q104.0,476.0 105.0,477.0 Q106.0,478.0 107.0,478.5 Q108.0,479.1 109.0,480.0 Q110.0,481.0 110.8,482.6 Q111.5,484.1 112.2,486.1 Q113.0,488.0 113.8,490.0 Q114.5,491.9 115.2,493.7 Q116.0,495.5 116.8,497.1 Q117.5,498.7 118.2,500.3 Q119.0,502.0 119.8,503.4 Q120.5,504.8 121.2,506.1 Q122.0,507.5 122.8,508.6 Q123.5,509.7 124.2,510.6 Q125.0,511.5 125.8,512.1 Q126.5,512.6 127.2,513.3 Q128.0,514.0 128.8,513.9 Q129.5,513.9 130.2,514.2 Q131.0,514.5 132.2,513.2 Q133.5,512.0 134.7,511.2 Q135.8,510.4 136.9,511.7 Q138.0,513.0 139.2,514.4 Q140.4,515.8 141.2,516.2 Q141.9,516.7 142.7,516.8 Q143.5,517.0 144.2,517.3 Q145.0,517.6 145.8,517.8 Q146.5,518.0 147.3,518.3 Q148.1,518.5 148.8,518.7 Q149.6,518.8 150.8,518.6 Q152.0,518.4 153.1,518.2 Q154.2,518.0 155.3,519.2 Q156.5,520.4 157.7,521.5 Q158.8,522.7 159.6,523.2 Q160.4,523.6 161.2,524.0 Q162.0,524.3 162.8,524.9 Q163.5,525.5 164.2,525.6 Q165.0,525.8 166.2,525.4 Q167.3,525.0 168.4,524.6 Q169.6,524.2 170.8,523.0 Q172.0,521.9 173.1,520.8 Q174.2,519.6 175.3,519.8 Q176.5,520.0 177.7,520.2 Q178.8,520.4 179.6,520.0 Q180.4,519.7 181.2,519.4 Q182.0,519.2 182.8,519.0 Q183.5,518.8 184.2,518.4 Q185.0,518.0 185.5,518.5 Q186.0,519.0 187.0,518.2 Q188.0,517.4 189.0,516.7 Q190.0,516.0 190.8,516.3 Q191.5,516.6 192.2,516.8 Q193.0,517.0 194.0,517.2 Q195.0,517.5 196.0,517.1 Q197.0,516.6 198.0,516.1 Q199.0,515.5 199.9,515.0 Q200.8,514.6 201.6,514.3 Q202.5,514.0 203.4,513.4 Q204.2,512.9 205.1,512.7 Q206.0,512.5 207.0,512.1 Q208.0,511.7 209.0,511.4 Q210.0,511.0 211.2,511.0 Q212.5,510.9 213.8,510.7 Q215.0,510.5 216.2,510.4 Q217.5,510.3 218.8,510.2 Q220.0,510.0 221.0,510.1 Q222.0,510.2 223.0,510.4 Q224.0,510.5 224.9,510.7 Q225.8,510.9 226.6,510.9 Q227.5,511.0 228.4,509.6 Q229.2,508.2 230.1,507.1 Q231.0,506.0 231.8,505.0 Q232.5,504.0 233.2,503.2 Q234.0,502.5 234.8,502.8 Q235.5,503.1 236.2,503.5 Q237.0,504.0 237.8,504.4 Q238.5,504.8 239.2,504.9 Q240.0,505.0 240.8,504.2 Q241.5,503.5 242.2,503.0 Q243.0,502.5 244.0,502.0 Q245.0,501.5 245.8,501.8 Q246.5,502.2 247.2,502.8 Q248.0,503.5 249.0,504.2 Q250.0,505.0 250.8,503.9 Q251.5,502.9 252.2,502.2 Q253.0,501.5 254.0,500.2 Q255.0,499.0 255.8,499.7 Q256.5,500.3 257.2,501.4 Q258.0,502.5 259.0,503.2 Q260.0,504.0 260.8,503.0 Q261.5,502.0 262.2,501.3 Q263.0,500.5 263.8,499.8 Q264.5,499.1 265.2,498.3 Q266.0,497.5 266.8,498.3 Q267.5,499.0 268.2,499.5 Q269.0,500.0 269.9,500.5 Q270.8,501.1 271.6,501.8 Q272.5,502.5 273.5,503.8 Q274.5,505.0 275.2,505.5 Q276.0,506.0 277.2,504.5 Q278.5,503.0 279.8,501.5 Q281.0,500.0 282.0,500.1 Q283.0,500.1 284.0,500.3 Q285.0,500.5 286.2,500.5 Q287.5,500.6 288.8,500.8 Q290.0,501.0 291.0,500.3 Q292.0,499.6 293.0,499.0 Q294.0,498.5 295.0,498.1 Q296.0,497.7 297.0,497.1 Q298.0,496.5 299.1,495.9 Q300.2,495.3 301.4,494.6 Q302.5,494.0 303.6,493.6 Q304.8,493.3 305.9,493.1 Q307.0,493.0 308.0,492.4 Q309.0,491.9 310.0,491.7 Q311.0,491.5 312.0,491.5 Q313.0,491.5 314.0,491.3 Q315.0,491.0 316.0,491.0 Q317.0,490.9 318.0,490.7 Q319.0,490.5 320.0,490.4 Q321.0,490.3 322.0,489.9 Q323.0,489.5 324.1,489.3 Q325.2,489.0 326.4,489.0 Q327.5,489.0 328.4,488.9 Q329.2,488.8 330.1,488.6 Q331.0,488.5 332.0,488.6 Q333.0,488.6 334.0,488.3 Q335.0,488.0 336.2,487.9 Q337.5,487.8 338.8,487.7 Q340.0,487.5 341.0,487.8 Q342.0,488.2 343.0,488.1 Q344.0,488.0 344.9,488.1 Q345.8,488.2 346.6,488.6 Q347.5,489.0 348.4,488.7 Q349.2,488.4 350.1,487.7 Q351.0,487.0 351.8,486.6 Q352.5,486.1 353.2,486.1 Q354.0,486.0 354.8,486.3 Q355.5,486.7 356.2,487.1 Q357.0,487.5 357.8,487.7 Q358.5,487.8 359.2,488.4 Q360.0,489.0 361.0,489.0 Q362.0,489.0 363.0,488.8 Q364.0,488.5 365.0,488.6 Q366.0,488.7 367.0,488.6 Q368.0,488.5 369.1,488.8 Q370.2,489.2 371.4,489.1 Q372.5,489.0 373.5,490.0 Q374.5,491.0 375.2,491.8 Q376.0,492.5 377.2,491.0 Q378.5,489.5 379.8,487.8 Q381.0,486.0 381.8,485.6 Q382.5,485.3 383.2,484.6 Q384.0,484.0 385.0,484.3 Q386.0,484.7 387.0,484.6 Q388.0,484.5 389.1,484.6 Q390.2,484.8 391.4,484.9 Q392.5,485.0 393.8,485.8 Q395.0,486.5 396.2,487.2 Q397.5,488.0 398.2,490.0 Q399.0,492.0 399.8,493.5 Q400.5,495.0 401.5,493.2 Q402.5,491.5 403.8,489.5 Q405.0,487.5 406.2,486.2 Q407.5,485.0 408.4,485.7 Q409.2,486.4 410.1,486.7 Q411.0,487.0 412.0,487.6 Q413.0,488.2 414.0,488.6 Q415.0,489.0 415.8,489.3 Q416.5,489.6 417.2,490.1 Q418.0,490.5 418.8,490.1 Q419.5,489.7 420.2,488.8 Q421.0,488.0 421.8,487.6 Q422.5,487.1 423.2,486.8 Q424.0,486.5 424.8,487.0 Q425.5,487.5 426.2,488.2 Q427.0,489.0 428.0,489.5 Q429.0,490.0 429.8,488.9 Q430.5,487.9 431.2,487.2 Q432.0,486.5 433.0,485.2 Q434.0,484.0 435.0,485.5 Q436.0,487.0 437.0,488.0 Q438.0,489.0 438.8,487.0 Q439.5,485.0 440.2,483.8 Q441.0,482.5 442.2,484.8 Q443.5,487.0 444.8,489.0 Q446.0,491.0 446.8,490.4 Q447.5,489.7 448.2,489.1 Q449.0,488.5 449.8,487.7 Q450.5,487.0 451.2,486.5 Q452.0,486.0 453.0,485.5 Q454.0,485.0 454.8,485.8 Q455.5,486.6 456.2,487.1 Q457.0,487.5 457.8,488.3 Q458.5,489.2 459.2,489.6 Q460.0,490.0 461.0,489.4 Q462.0,488.7 463.0,488.4 Q464.0,488.0 464.9,487.3 Q465.8,486.6 466.6,486.3 Q467.5,486.0 468.4,486.5 Q469.2,487.0 470.1,487.5 Q471.0,488.0 472.0,488.2 Q473.0,488.5 474.0,489.0 Q475.0,489.5 475.8,489.1 Q476.5,488.8 477.2,488.4 Q478.0,488.0 479.0,487.8 Q480.0,487.5 481.0,488.1 Q482.0,488.8 483.0,489.1 Q484.0,489.5 485.2,489.6 Q486.5,489.8 487.8,490.1 L489.0,490.5" fill="none" stroke="#0c0c0c" stroke-width="1.5" stroke-linecap="round" stroke-linejoin="round"/>
<path d="M60.0,467.5 Q62.5,468.5 63.8,469.2 Q65.0,470.0 66.2,471.9 Q67.5,473.8 68.8,474.6 Q70.0,475.5 70.8,475.4 Q71.5,475.2 72.2,474.9 Q73.0,474.5 73.8,474.2 Q74.5,473.8 75.2,473.2 Q76.0,472.5 76.8,471.8 Q77.5,471.2 78.2,470.8 Q79.0,470.5 79.8,471.2 Q80.5,472.0 81.2,472.2 Q82.0,472.5 82.8,473.1 Q83.5,473.7 84.2,474.6 Q85.0,475.5 85.8,476.3 Q86.5,477.2 87.2,477.8 Q88.0,478.5 88.8,479.2 Q89.5,479.8 90.2,480.9 Q91.0,482.0 92.4,484.1 Q93.8,486.2 95.0,487.8 Q96.2,489.4 97.1,488.2 Q98.0,487.0 99.0,485.7 Q100.0,484.4 101.2,485.1 Q102.5,485.8 103.8,486.4 Q105.0,486.9 106.2,486.4 Q107.5,486.0 108.8,485.8 Q110.0,485.6 110.6,486.1 Q111.2,486.5 112.3,490.0 Q113.5,493.5 114.7,496.9 Q115.8,500.4 116.9,502.7 Q118.1,505.0 119.2,507.3 Q120.4,509.6 121.6,511.2 Q122.7,512.7 123.8,514.2 Q125.0,515.8 126.2,516.5 Q127.3,517.3 128.4,518.0 Q129.6,518.8 130.4,519.5 Q131.1,520.3 131.9,520.7 Q132.7,521.2 133.5,521.6 Q134.2,522.0 135.0,522.8 Q135.8,523.5 136.9,525.0 Q138.1,526.5 139.2,528.0 Q140.4,529.6 141.2,530.1 Q141.9,530.6 142.7,530.9 Q143.5,531.2 144.2,531.7 Q145.0,532.2 145.8,532.4 Q146.5,532.7 147.3,533.1 Q148.1,533.6 148.8,533.7 Q149.6,533.9 150.4,534.1 Q151.1,534.4 151.9,534.7 Q152.7,535.0 153.8,535.4 Q155.0,535.8 156.2,536.1 Q157.3,536.5 158.7,535.8 Q160.0,535.0 160.8,534.8 Q161.5,534.6 162.2,534.1 Q163.0,533.5 163.8,533.2 Q164.5,533.0 165.2,532.2 Q166.0,531.5 166.8,530.9 Q167.5,530.4 168.2,530.2 Q169.0,530.0 169.8,530.4 Q170.5,530.8 171.2,531.1 Q172.0,531.5 172.8,532.1 Q173.5,532.7 174.2,532.9 Q175.0,533.0 175.8,533.2 Q176.5,533.5 177.2,533.5 Q178.0,533.5 178.8,533.7 Q179.5,533.9 180.2,534.2 Q181.0,534.5 182.0,534.6 Q183.0,534.7 184.0,535.0 Q185.0,535.3 186.0,535.4 Q187.0,535.5 188.0,535.9 Q189.0,536.2 190.0,536.1 Q191.0,536.0 192.0,535.8 Q193.0,535.6 194.0,535.8 Q195.0,536.0 196.0,535.8 Q197.0,535.5 198.0,535.0 Q199.0,534.5 199.8,534.2 Q200.5,533.8 201.2,533.2 Q202.0,532.5 202.8,532.0 Q203.5,531.4 204.2,531.2 Q205.0,531.0 205.8,531.3 Q206.5,531.6 207.2,532.0 Q208.0,532.5 209.1,532.8 Q210.2,533.1 211.4,533.5 Q212.5,534.0 213.6,533.9 Q214.8,533.8 215.9,533.6 Q217.0,533.5 218.0,533.3 Q219.0,533.1 220.0,533.1 Q221.0,533.0 222.0,533.1 Q223.0,533.1 224.0,532.8 Q225.0,532.5 226.0,532.3 Q227.0,532.2 228.0,531.6 Q229.0,531.0 229.8,530.7 Q230.5,530.3 231.2,530.2 Q232.0,530.0 232.8,529.9 Q233.5,529.9 234.2,529.4 Q235.0,529.0 236.0,528.4 Q237.0,527.8 238.0,527.7 Q239.0,527.5 240.2,526.9 Q241.5,526.3 242.8,526.2 Q244.0,526.0 244.8,526.6 Q245.5,527.2 246.2,527.6 Q247.0,528.0 247.8,528.6 Q248.5,529.3 249.2,529.6 Q250.0,530.0 250.8,529.7 Q251.5,529.3 252.2,528.7 Q253.0,528.0 254.1,527.5 Q255.2,527.0 256.4,526.0 Q257.5,525.0 258.4,525.8 Q259.2,526.6 260.1,527.1 Q261.0,527.5 262.0,528.0 Q263.0,528.5 264.0,529.3 Q265.0,530.0 265.8,529.9 Q266.5,529.7 267.2,529.4 Q268.0,529.0 269.1,528.8 Q270.2,528.7 271.4,528.1 Q272.5,527.5 273.4,526.8 Q274.2,526.1 275.1,525.8 Q276.0,525.5 277.0,524.9 Q278.0,524.2 279.0,523.6 Q280.0,523.0 281.2,524.0 Q282.5,525.0 283.8,526.2 Q285.0,527.5 286.0,527.0 Q287.0,526.4 288.0,526.2 Q289.0,526.0 289.8,525.6 Q290.5,525.1 291.2,525.1 Q292.0,525.0 292.8,524.7 Q293.5,524.5 294.2,524.2 Q295.0,524.0 295.8,524.2 Q296.5,524.4 297.2,524.5 Q298.0,524.5 299.0,524.8 Q300.0,525.0 300.8,525.1 Q301.5,525.2 302.2,524.9 Q303.0,524.5 303.8,523.9 Q304.5,523.4 305.2,523.2 Q306.0,523.0 307.0,522.9 Q308.0,522.8 309.0,522.6 Q310.0,522.5 310.8,523.4 Q311.5,524.2 312.2,524.6 Q313.0,525.0 313.8,525.8 Q314.5,526.5 315.2,527.0 Q316.0,527.5 316.8,526.6 Q317.5,525.8 318.2,524.9 Q319.0,524.0 319.9,523.1 Q320.8,522.2 321.6,521.6 Q322.5,521.0 323.4,521.6 Q324.2,522.1 325.1,522.6 Q326.0,523.0 327.0,523.4 Q328.0,523.8 329.0,524.4 Q330.0,525.0 330.8,525.4 Q331.5,525.9 332.2,526.2 Q333.0,526.5 333.8,526.8 Q334.5,527.1 335.2,527.3 Q336.0,527.5 337.0,526.5 Q338.0,525.5 339.0,524.8 Q340.0,524.0 341.2,523.9 Q342.5,523.9 343.8,523.9 Q345.0,524.0 346.2,524.1 Q347.5,524.3 348.8,524.1 Q350.0,524.0 351.0,523.7 Q352.0,523.4 353.0,523.2 Q354.0,523.0 355.0,522.6 Q356.0,522.2 357.0,521.9 Q358.0,521.5 359.0,521.3 Q360.0,521.1 361.0,520.5 Q362.0,520.0 362.8,519.6 Q363.5,519.3 364.2,519.1 Q365.0,519.0 366.0,519.0 Q367.0,518.9 368.0,519.2 Q369.0,519.5 370.2,519.7 Q371.5,519.8 372.8,519.9 Q374.0,520.0 375.0,519.7 Q376.0,519.4 377.0,519.2 Q378.0,519.0 378.8,518.9 Q379.5,518.9 380.2,518.4 Q381.0,518.0 382.0,517.7 Q383.0,517.5 384.0,517.5 Q385.0,517.5 386.2,518.5 Q387.5,519.5 388.8,520.5 Q390.0,521.5 391.0,521.3 Q392.0,521.1 393.0,521.1 Q394.0,521.0 395.0,520.9 Q396.0,520.8 397.0,521.2 Q398.0,521.5 398.8,522.0 Q399.5,522.5 400.2,523.0 Q401.0,523.5 401.8,523.8 Q402.5,524.1 403.2,524.5 Q404.0,525.0 405.0,523.8 Q406.0,522.5 407.2,521.2 Q408.5,520.0 409.8,518.8 Q411.0,517.5 411.8,518.1 Q412.5,518.7 413.2,519.3 Q414.0,520.0 414.9,520.8 Q415.8,521.5 416.6,522.0 Q417.5,522.5 418.4,521.9 Q419.2,521.3 420.1,521.1 Q421.0,521.0 421.8,521.0 Q422.5,521.0 423.2,520.5 Q424.0,520.0 424.9,519.9 Q425.8,519.7 426.6,519.4 Q427.5,519.0 428.6,519.0 Q429.8,519.1 430.9,518.8 Q432.0,518.5 433.0,518.4 Q434.0,518.3 435.0,518.1 Q436.0,518.0 437.0,518.0 Q438.0,518.1 439.0,518.0 Q440.0,518.0 441.0,518.1 Q442.0,518.2 443.0,518.3 Q444.0,518.5 445.0,518.7 Q446.0,518.9 447.0,519.2 Q448.0,519.5 449.1,519.7 Q450.2,520.0 451.4,520.5 Q452.5,521.0 453.8,520.0 Q455.0,519.0 456.2,518.2 Q457.5,517.5 458.6,517.4 Q459.8,517.3 460.9,517.4 Q462.0,517.5 462.8,517.0 Q463.5,516.5 464.2,516.3 Q465.0,516.0 465.8,515.4 Q466.5,514.8 467.2,514.4 Q468.0,514.0 468.8,513.8 Q469.5,513.7 470.2,513.1 Q471.0,512.5 471.8,512.9 Q472.5,513.3 473.2,513.4 Q474.0,513.5 474.9,513.9 Q475.8,514.4 476.6,514.7 Q477.5,515.0 478.8,516.0 Q480.0,517.0 481.0,518.2 Q482.0,519.5 483.0,520.2 Q484.0,521.0 485.2,519.8 Q486.5,518.5 487.8,517.2 L489.0,516.0" fill="none" stroke="#0c0c0c" stroke-width="3.0" stroke-linecap="round" stroke-linejoin="round"/>
<path d="M61.2,476.9 Q64.0,476.0 64.9,475.8 Q65.8,475.7 66.6,475.6 Q67.5,475.6 68.2,475.7 Q69.0,475.7 69.8,475.3 Q70.5,474.8 71.3,474.7 Q72.1,474.7 72.9,474.2 Q73.8,473.8 74.6,472.9 Q75.4,472.1 76.2,471.7 Q77.0,471.2 77.9,470.8 Q78.8,470.4 79.7,469.6 Q80.6,468.8 82.0,469.7 Q83.5,470.6 84.9,471.6 Q86.2,472.5 87.1,473.2 Q87.9,473.9 88.7,474.5 Q89.5,475.0 90.2,475.4 Q91.0,475.7 91.8,476.6 Q92.5,477.5 93.4,477.1 Q94.2,476.8 95.1,475.9 Q96.0,475.0 96.8,473.6 Q97.7,472.2 98.6,471.1 Q99.4,470.0 100.2,471.2 Q101.0,472.5 101.8,473.8 Q102.5,475.0 103.8,477.7 Q105.0,480.4 105.8,480.2 Q106.5,480.0 107.2,480.0 Q108.0,480.0 108.8,480.1 Q109.6,480.1 110.4,480.3 Q111.2,480.4 112.0,481.6 Q112.7,482.8 113.5,483.9 Q114.2,485.0 115.3,487.3 Q116.5,489.6 117.7,491.9 Q118.8,494.2 120.0,496.1 Q121.2,498.0 122.3,499.9 Q123.5,501.9 124.2,503.9 Q125.0,505.8 125.8,507.7 Q126.5,509.6 127.7,510.8 Q128.8,512.0 130.0,513.1 Q131.2,514.2 131.9,514.1 Q132.7,514.0 133.4,514.4 Q134.2,514.8 135.0,515.0 Q135.8,515.1 136.5,515.1 Q137.3,515.0 138.4,514.7 Q139.6,514.4 140.8,514.3 Q141.9,514.2 142.9,515.4 Q143.9,516.5 144.9,517.6 Q145.8,518.8 146.8,520.5 Q147.7,522.3 148.6,524.0 Q149.6,525.8 150.4,526.4 Q151.1,526.9 151.9,527.1 Q152.7,527.3 153.5,527.7 Q154.2,528.1 155.0,528.4 Q155.8,528.8 156.6,529.7 Q157.3,530.5 158.1,531.0 Q158.8,531.5 159.6,532.2 Q160.4,533.0 161.1,533.6 Q161.9,534.2 163.1,533.5 Q164.2,532.7 165.3,532.0 Q166.5,531.2 167.3,531.0 Q168.1,530.8 168.8,530.2 Q169.6,529.6 170.4,530.6 Q171.2,531.6 171.9,532.5 Q172.7,533.5 173.8,533.3 Q175.0,533.1 176.2,532.9 Q177.3,532.7 178.4,533.5 Q179.6,534.2 180.8,535.0 Q181.9,535.8 182.7,536.0 Q183.4,536.2 184.2,536.7 Q185.0,537.3 186.2,537.8 Q187.5,538.2 188.8,538.9 Q190.0,539.5 191.2,539.6 Q192.5,539.7 193.8,539.9 Q195.0,540.0 196.2,539.6 Q197.5,539.3 198.8,539.4 Q200.0,539.5 201.0,539.7 Q202.0,539.8 203.0,539.4 Q204.0,539.0 204.9,539.1 Q205.8,539.2 206.6,539.1 Q207.5,539.0 208.8,539.8 Q210.0,540.5 211.2,541.5 Q212.5,542.5 213.8,543.2 Q215.0,544.0 216.2,542.8 Q217.5,541.5 218.8,540.2 Q220.0,539.0 221.0,538.9 Q222.0,538.8 223.0,539.1 Q224.0,539.5 225.0,539.7 Q226.0,539.8 227.0,539.9 Q228.0,540.0 229.1,539.9 Q230.2,539.9 231.4,539.9 Q232.5,540.0 233.4,539.6 Q234.2,539.1 235.1,539.1 Q236.0,539.0 236.8,538.5 Q237.5,538.1 238.2,538.0 Q239.0,538.0 239.9,537.9 Q240.8,537.7 241.6,537.6 Q242.5,537.5 243.4,537.5 Q244.2,537.5 245.1,538.0 Q246.0,538.5 246.8,538.8 Q247.5,539.1 248.2,539.3 Q249.0,539.5 249.9,539.6 Q250.8,539.8 251.6,539.9 Q252.5,540.0 253.4,539.5 Q254.2,539.1 255.1,539.0 Q256.0,539.0 257.2,538.5 Q258.5,538.0 259.8,537.8 Q261.0,537.5 262.0,538.8 Q263.0,540.0 264.0,541.2 Q265.0,542.5 266.2,541.2 Q267.5,540.0 268.8,538.8 Q270.0,537.5 270.8,538.1 Q271.5,538.7 272.2,538.9 Q273.0,539.0 274.1,539.2 Q275.2,539.4 276.4,540.2 Q277.5,541.0 278.6,540.9 Q279.8,540.9 280.9,541.2 Q282.0,541.5 282.9,541.6 Q283.8,541.7 284.8,541.3 Q285.7,540.8 286.6,540.9 Q287.5,541.0 288.4,540.6 Q289.2,540.2 290.1,539.8 Q291.0,539.5 292.0,538.8 Q293.0,538.0 294.0,537.0 Q295.0,536.0 296.2,535.5 Q297.5,535.0 298.8,536.0 Q300.0,537.0 300.8,537.5 Q301.5,538.1 302.2,538.5 Q303.0,539.0 304.0,539.1 Q305.0,539.2 306.0,539.3 Q307.0,539.5 308.0,539.6 Q309.0,539.7 310.0,539.9 Q311.0,540.0 312.0,540.0 Q313.0,540.0 314.0,540.0 Q315.0,540.0 315.8,539.6 Q316.5,539.2 317.2,538.9 Q318.0,538.5 318.8,537.9 Q319.5,537.2 320.2,537.1 Q321.0,537.0 322.0,536.9 Q323.0,536.9 324.0,536.4 Q325.0,536.0 326.2,537.2 Q327.5,538.5 328.8,539.8 Q330.0,541.0 331.2,540.0 Q332.5,539.0 333.8,537.8 Q335.0,536.5 336.2,535.8 Q337.5,535.0 338.4,535.0 Q339.2,535.0 340.1,535.2 Q341.0,535.5 342.0,535.4 Q343.0,535.2 344.0,535.6 Q345.0,536.0 346.2,536.1 Q347.5,536.1 348.8,536.3 Q350.0,536.5 351.0,537.1 Q352.0,537.6 353.0,537.8 Q354.0,538.0 354.8,538.5 Q355.5,538.9 356.2,539.2 Q357.0,539.5 357.8,539.6 Q358.5,539.7 359.2,539.8 Q360.0,540.0 360.8,539.6 Q361.5,539.2 362.2,538.9 Q363.0,538.5 364.0,537.8 Q365.0,537.2 366.0,536.8 Q367.0,536.5 368.0,536.4 Q369.0,536.4 370.0,536.2 Q371.0,536.0 372.2,535.9 Q373.5,535.8 374.8,535.9 Q376.0,536.0 377.2,537.5 Q378.5,539.0 379.5,540.8 Q380.5,542.5 381.5,543.2 Q382.5,544.0 383.8,542.5 Q385.0,541.0 386.2,539.5 Q387.5,538.0 388.8,538.2 Q390.0,538.5 391.0,538.2 Q392.0,538.0 393.0,538.2 Q394.0,538.5 395.0,538.2 Q396.0,537.8 397.0,537.9 Q398.0,538.0 399.1,537.6 Q400.2,537.3 401.4,537.4 Q402.5,537.5 403.4,537.5 Q404.2,537.5 405.1,537.2 Q406.0,537.0 407.0,537.0 Q408.0,537.0 409.0,536.5 Q410.0,536.0 411.2,535.2 Q412.5,534.5 413.8,534.2 Q415.0,534.0 415.8,534.4 Q416.5,534.8 417.2,534.9 Q418.0,535.0 419.0,534.8 Q420.0,534.5 420.8,534.0 Q421.5,533.4 422.2,533.2 Q423.0,533.0 424.2,532.0 Q425.5,531.0 426.5,530.5 Q427.5,530.0 428.8,531.2 Q430.0,532.5 431.0,533.8 Q432.0,535.0 433.0,535.8 Q434.0,536.5 434.8,536.2 Q435.5,535.8 436.2,535.9 Q437.0,536.0 437.8,536.4 Q438.5,536.8 439.2,536.6 Q440.0,536.5 440.8,536.9 Q441.5,537.3 442.2,537.9 Q443.0,538.5 443.8,538.7 Q444.5,538.9 445.2,539.4 Q446.0,540.0 446.8,539.5 Q447.5,539.1 448.2,538.5 Q449.0,538.0 449.8,537.4 Q450.5,536.9 451.2,536.2 Q452.0,535.5 452.8,535.1 Q453.5,534.8 454.2,534.4 Q455.0,534.0 455.8,534.1 Q456.5,534.2 457.2,534.3 Q458.0,534.5 459.0,534.2 Q460.0,534.0 461.2,533.0 Q462.5,532.0 463.8,531.0 Q465.0,530.0 465.8,530.5 Q466.5,531.0 467.2,531.8 Q468.0,532.5 468.8,533.1 Q469.5,533.7 470.2,534.4 Q471.0,535.0 472.0,535.8 Q473.0,536.5 473.8,536.6 Q474.5,536.7 475.2,536.8 Q476.0,537.0 476.8,537.2 Q477.5,537.5 478.2,537.5 Q479.0,537.5 479.8,537.2 Q480.5,536.9 481.2,536.7 Q482.0,536.5 482.8,536.0 Q483.5,535.6 484.2,535.3 Q485.0,535.0 486.0,534.0 Q487.0,533.0 488.0,532.0 L489.0,531.0" fill="none" stroke="#0c0c0c" stroke-width="5.2" stroke-linecap="round" stroke-linejoin="round"/>
</g>
<g id="axes">
<line x1="50.4" y1="45.99999999999998" x2="50.4" y2="295.2" stroke="#0c0c0c" stroke-width="2.8" stroke-linecap="butt"/>
<line x1="44.5" y1="293.8" x2="262.8" y2="293.8" stroke="#0c0c0c" stroke-width="2.8" stroke-linecap="butt"/>
<line x1="44.5" y1="258.6" x2="50.4" y2="258.6" stroke="#0c0c0c" stroke-width="2.8" stroke-linecap="butt"/>
<line x1="44.5" y1="223.4" x2="50.4" y2="223.4" stroke="#0c0c0c" stroke-width="2.8" stroke-linecap="butt"/>
<line x1="44.5" y1="188.2" x2="50.4" y2="188.2" stroke="#0c0c0c" stroke-width="2.8" stroke-linecap="butt"/>
<line x1="44.5" y1="153.0" x2="50.4" y2="153.0" stroke="#0c0c0c" stroke-width="2.8" stroke-linecap="butt"/>
<line x1="44.5" y1="117.80000000000001" x2="50.4" y2="117.80000000000001" stroke="#0c0c0c" stroke-width="2.8" stroke-linecap="butt"/>
<line x1="44.5" y1="82.6" x2="50.4" y2="82.6" stroke="#0c0c0c" stroke-width="2.8" stroke-linecap="butt"/>
<line x1="44.5" y1="47.39999999999998" x2="50.4" y2="47.39999999999998" stroke="#0c0c0c" stroke-width="2.8" stroke-linecap="butt"/>
<line x1="93.5" y1="293.8" x2="93.5" y2="299.6" stroke="#0c0c0c" stroke-width="2.8" stroke-linecap="butt"/>
<line x1="140.2" y1="293.8" x2="140.2" y2="299.6" stroke="#0c0c0c" stroke-width="2.8" stroke-linecap="butt"/>
<line x1="186.9" y1="293.8" x2="186.9" y2="299.6" stroke="#0c0c0c" stroke-width="2.8" stroke-linecap="butt"/>
<line x1="233.60000000000002" y1="293.8" x2="233.60000000000002" y2="299.6" stroke="#0c0c0c" stroke-width="2.8" stroke-linecap="butt"/>
<line x1="306.6" y1="45.99999999999998" x2="306.6" y2="295.2" stroke="#0c0c0c" stroke-width="2.8" stroke-linecap="butt"/>
<line x1="300.7" y1="293.8" x2="520" y2="293.8" stroke="#0c0c0c" stroke-width="2.8" stroke-linecap="butt"/>
<line x1="300.7" y1="258.6" x2="306.6" y2="258.6" stroke="#0c0c0c" stroke-width="2.8" stroke-linecap="butt"/>
<line x1="300.7" y1="223.4" x2="306.6" y2="223.4" stroke="#0c0c0c" stroke-width="2.8" stroke-linecap="butt"/>
<line x1="300.7" y1="188.2" x2="306.6" y2="188.2" stroke="#0c0c0c" stroke-width="2.8" stroke-linecap="butt"/>
<line x1="300.7" y1="153.0" x2="306.6" y2="153.0" stroke="#0c0c0c" stroke-width="2.8" stroke-linecap="butt"/>
<line x1="300.7" y1="117.80000000000001" x2="306.6" y2="117.80000000000001" stroke="#0c0c0c" stroke-width="2.8" stroke-linecap="butt"/>
<line x1="300.7" y1="82.6" x2="306.6" y2="82.6" stroke="#0c0c0c" stroke-width="2.8" stroke-linecap="butt"/>
<line x1="300.7" y1="47.39999999999998" x2="306.6" y2="47.39999999999998" stroke="#0c0c0c" stroke-width="2.8" stroke-linecap="butt"/>
<line x1="349.8" y1="293.8" x2="349.8" y2="299.6" stroke="#0c0c0c" stroke-width="2.8" stroke-linecap="butt"/>
<line x1="396.5" y1="293.8" x2="396.5" y2="299.6" stroke="#0c0c0c" stroke-width="2.8" stroke-linecap="butt"/>
<line x1="443.20000000000005" y1="293.8" x2="443.20000000000005" y2="299.6" stroke="#0c0c0c" stroke-width="2.8" stroke-linecap="butt"/>
<line x1="489.90000000000003" y1="293.8" x2="489.90000000000003" y2="299.6" stroke="#0c0c0c" stroke-width="2.8" stroke-linecap="butt"/>
<line x1="56.9" y1="384.3" x2="56.9" y2="602.8" stroke="#0c0c0c" stroke-width="2.8" stroke-linecap="butt"/>
<line x1="55.5" y1="601.4" x2="497.5" y2="601.4" stroke="#0c0c0c" stroke-width="2.8" stroke-linecap="butt"/>
<line x1="50.3" y1="544.3" x2="56.9" y2="544.3" stroke="#0c0c0c" stroke-width="2.8" stroke-linecap="butt"/>
<line x1="50.3" y1="486.49999999999994" x2="56.9" y2="486.49999999999994" stroke="#0c0c0c" stroke-width="2.8" stroke-linecap="butt"/>
<line x1="50.3" y1="428.69999999999993" x2="56.9" y2="428.69999999999993" stroke="#0c0c0c" stroke-width="2.8" stroke-linecap="butt"/>
<line x1="102.5" y1="601.4" x2="102.5" y2="607.5" stroke="#0c0c0c" stroke-width="2.8" stroke-linecap="butt"/>
<line x1="195.23999999999998" y1="601.4" x2="195.23999999999998" y2="607.5" stroke="#0c0c0c" stroke-width="2.8" stroke-linecap="butt"/>
<line x1="287.97999999999996" y1="601.4" x2="287.97999999999996" y2="607.5" stroke="#0c0c0c" stroke-width="2.8" stroke-linecap="butt"/>
<line x1="380.72" y1="601.4" x2="380.72" y2="607.5" stroke="#0c0c0c" stroke-width="2.8" stroke-linecap="butt"/>
<line x1="473.46" y1="601.4" x2="473.46" y2="607.5" stroke="#0c0c0c" stroke-width="2.8" stroke-linecap="butt"/>
<line x1="50.6" y1="30.6" x2="79.6" y2="30.6" stroke="#828282" stroke-width="4.8" stroke-linecap="round"/>
<line x1="165" y1="30.5" x2="196.2" y2="30.5" stroke="#828282" stroke-width="2.2" stroke-linecap="butt"/>
<line x1="296.1" y1="30.6" x2="325.6" y2="30.6" stroke="#0c0c0c" stroke-width="4.9" stroke-linecap="round"/>
<line x1="418" y1="30.5" x2="449.6" y2="30.5" stroke="#0c0c0c" stroke-width="2.8" stroke-linecap="butt"/>
<line x1="219.5" y1="394.6" x2="237.5" y2="394.6" stroke="#828282" stroke-width="2.4" stroke-linecap="butt"/>
<line x1="222" y1="416.1" x2="235" y2="416.1" stroke="#828282" stroke-width="4.7" stroke-linecap="round"/>
<line x1="343.8" y1="394.3" x2="360.8" y2="394.3" stroke="#0c0c0c" stroke-width="1.4" stroke-linecap="butt"/>
<line x1="343.8" y1="416.2" x2="360.8" y2="416.2" stroke="#0c0c0c" stroke-width="3.0" stroke-linecap="butt"/>
<line x1="346.5" y1="437.6" x2="358.1" y2="437.6" stroke="#0c0c0c" stroke-width="5.4" stroke-linecap="round"/>
</g>
<g id="labels">
<text transform="translate(0.98,27.20) scale(1.0108,1)" font-size="37.8" font-weight="bold">A</text>
<text transform="translate(0.46,378.30) scale(0.9723,1)" font-size="37.6" font-weight="bold">B</text>
<text transform="translate(88.56,35.10) scale(1.0638,1)" font-size="20.8">Mn<tspan font-size="17.26" dy="-6.1">2+</tspan></text>
<text transform="translate(204.43,35.00) scale(1.0511,1)" font-size="20.8">Buffer</text>
<text transform="translate(334.22,35.00) scale(1.0075,1)" font-size="20.8">fMLP</text>
<text transform="translate(456.68,35.00) scale(1.0533,1)" font-size="20.8">SDF-1</text>
<text transform="translate(131.19,57.80) scale(0.9867,1)" font-size="20.8">DMSO</text>
<text transform="translate(355.43,57.60) scale(0.9935,1)" font-size="20.8">W7 (100 <tspan font-family="'Liberation Serif','DejaVu Serif',serif" stroke="none" font-size="22.88">μ</tspan>M)</text>
<text transform="translate(23.69,301.20) scale(1.0786,1)" font-size="21.2">0</text>
<text transform="translate(23.41,230.80) scale(1.1259,1)" font-size="21.2">2</text>
<text transform="translate(24.09,160.40) scale(1.0215,1)" font-size="21.2">4</text>
<text transform="translate(23.42,90.00) scale(1.1097,1)" font-size="21.2">6</text>
<text transform="translate(87.74,319.80) scale(1.0400,1)" font-size="21.3">0</text>
<text transform="translate(344.04,319.80) scale(1.0400,1)" font-size="21.3">0</text>
<text transform="translate(134.44,319.80) scale(1.0400,1)" font-size="21.3">1</text>
<text transform="translate(390.74,319.80) scale(1.0400,1)" font-size="21.3">1</text>
<text transform="translate(181.14,319.80) scale(1.0400,1)" font-size="21.3">2</text>
<text transform="translate(437.44,319.80) scale(1.0400,1)" font-size="21.3">2</text>
<text transform="translate(227.84,319.80) scale(1.0400,1)" font-size="21.3">3</text>
<text transform="translate(484.14,319.80) scale(1.0400,1)" font-size="21.3">3</text>
<text transform="translate(215.30,340.20) scale(1.0298,1)" font-size="21.0">Time (minutes)</text>
<text transform="translate(18.90,290.26) rotate(-90) scale(0.9713,1)" font-size="23.0">LDV-FITC Fluorescence</text>
<text transform="translate(245.23,400.00) scale(1.0228,1)" font-size="20.8">Buffer</text>
<text transform="translate(245.21,423.60) scale(1.0335,1)" font-size="20.8">EIPA</text>
<text transform="translate(369.53,401.40) scale(1.0255,1)" font-size="20.8">W7 (10 <tspan font-family="'Liberation Serif','DejaVu Serif',serif" stroke="none" font-size="22.88">μ</tspan>M)</text>
<text transform="translate(369.53,423.10) scale(1.0255,1)" font-size="20.8">W7 (30 <tspan font-family="'Liberation Serif','DejaVu Serif',serif" stroke="none" font-size="22.88">μ</tspan>M)</text>
<text transform="translate(369.53,444.60) scale(1.0165,1)" font-size="20.8">W7 (100 <tspan font-family="'Liberation Serif','DejaVu Serif',serif" stroke="none" font-size="22.88">μ</tspan>M)</text>
<text transform="translate(28.46,435.90) scale(1.0791,1)" font-size="21.2">6</text>
<text transform="translate(29.14,551.50) scale(1.0165,1)" font-size="21.2">5</text>
<text transform="translate(96.11,631.60) scale(1.0490,1)" font-size="21.2">0</text>
<text transform="translate(176.94,631.60) scale(0.9971,1)" font-size="21.2">200</text>
<text transform="translate(270.71,631.60) scale(0.9923,1)" font-size="21.2">400</text>
<text transform="translate(362.94,631.60) scale(1.0031,1)" font-size="21.2">600</text>
<text transform="translate(455.87,631.60) scale(1.0167,1)" font-size="21.2">800</text>
<text transform="translate(195.81,662.90) scale(0.9947,1)" font-size="21.2">Time (seconds)</text>
<text transform="translate(19.20,603.65) rotate(-90) scale(1.0294,1)" font-size="21.6">BCECF Fluorescence</text>
</g>
</svg>
</body>
</html>
